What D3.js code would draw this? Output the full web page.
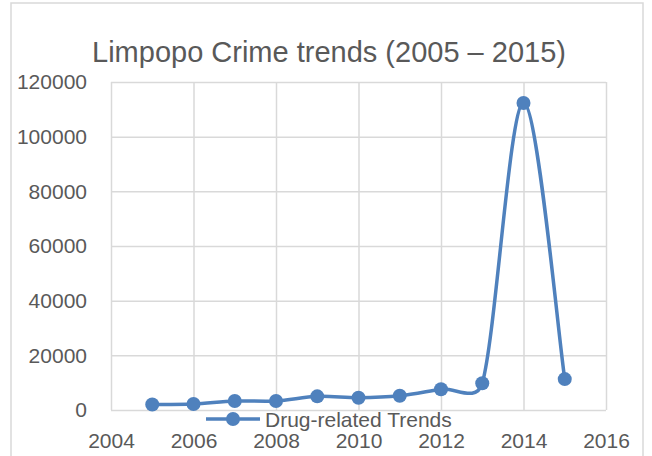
<!DOCTYPE html>
<html>
<head>
<meta charset="utf-8">
<script src="https://cdn.jsdelivr.net/npm/d3@7"></script>
<style>
  body { margin: 0; background: #fff; }
  svg text { font-family: "Liberation Sans", Arial, sans-serif; fill: #595959; }
</style>
</head>
<body>
<svg id="chart" width="652" height="456"></svg>
<script>
// data
var years = [2005, 2006, 2007, 2008, 2009, 2010, 2011, 2012, 2013, 2014, 2015];
var drugTrends = [2000, 2200, 3300, 3300, 5000, 4500, 5200, 7600, 9800, 112300, 11300];
var xTicks = [2004, 2006, 2008, 2010, 2012, 2014, 2016];
var yTicks = [0, 20000, 40000, 60000, 80000, 100000, 120000];
var seriesName = "Drug-related Trends";
var title = "Limpopo Crime trends (2005 \u2013 2015)";

var svg = d3.select("#chart");
var blue = "#4f81bd";
var grid = "#d9d9d9";

// chart frame (runs off the bottom of the crop)
svg.append("rect")
    .attr("x", 11).attr("y", 3)
    .attr("width", 632).attr("height", 480)
    .attr("fill", "#fff")
    .attr("stroke", grid)
    .attr("stroke-width", 1.5);

var x = d3.scaleLinear().domain([2004, 2016]).range([111, 606]);
var y = d3.scaleLinear().domain([0, 120000]).range([410, 82]);

// gridlines
svg.append("g")
    .attr("transform", "translate(0,410)")
    .call(d3.axisBottom(x).tickValues(xTicks).tickSize(-(410 - 82)).tickFormat(""))
    .call(g => g.select(".domain").remove())
    .selectAll("line").attr("stroke", grid).attr("stroke-width", 1.5);

svg.append("g")
    .attr("transform", "translate(111,0)")
    .call(d3.axisLeft(y).tickValues(yTicks).tickSize(-(606 - 111)).tickFormat(""))
    .call(g => g.select(".domain").remove())
    .selectAll("line").attr("stroke", grid).attr("stroke-width", 1.5);

// axis labels
var yAxis = svg.append("g")
    .attr("transform", "translate(111,0)")
    .call(d3.axisLeft(y).tickValues(yTicks).tickSize(0).tickPadding(24).tickFormat(d3.format("d")));
yAxis.select(".domain").remove();
yAxis.selectAll("text").attr("font-size", 21).style("font-family", null);

var xAxis = svg.append("g")
    .attr("transform", "translate(0,410)")
    .call(d3.axisBottom(x).tickValues(xTicks).tickSize(0).tickPadding(23).tickFormat(d3.format("d")));
xAxis.select(".domain").remove();
xAxis.selectAll("text").attr("font-size", 21).style("font-family", null);

// title
svg.append("text")
    .attr("x", 329).attr("y", 62)
    .attr("text-anchor", "middle")
    .attr("font-size", 29)
    .text(title);

// smoothed line, Excel style bezier
var pts = years.map((yr, i) => [x(yr), y(drugTrends[i])]);
function tangent(p0, p1, p2, segLen) {
    var dx = (p2[0] - p0[0]) / 6, dy = (p2[1] - p0[1]) / 6;
    var len = Math.hypot(dx, dy), cap = segLen * 0.5;
    if (len > cap) { dx *= cap / len; dy *= cap / len; }
    return [dx, dy];
}
var path = d3.path();
path.moveTo(pts[0][0], pts[0][1]);
var n = pts.length;
for (var i = 0; i < n - 1; i++) {
    var p0 = pts[Math.max(i - 1, 0)], p1 = pts[i], p2 = pts[i + 1], p3 = pts[Math.min(i + 2, n - 1)];
    var seg = Math.hypot(p2[0] - p1[0], p2[1] - p1[1]);
    var t1 = tangent(p0, p1, p2, seg), t2 = tangent(p1, p2, p3, seg);
    path.bezierCurveTo(p1[0] + t1[0], p1[1] + t1[1], p2[0] - t2[0], p2[1] - t2[1], p2[0], p2[1]);
}
svg.append("path")
    .attr("d", path.toString())
    .attr("fill", "none")
    .attr("stroke", blue)
    .attr("stroke-width", 3.5)
    .attr("stroke-linecap", "round");

svg.selectAll(".dot")
    .data(drugTrends)
    .enter().append("circle")
    .attr("class", "dot")
    .attr("cx", (d, i) => x(years[i]))
    .attr("cy", d => y(d))
    .attr("r", 7)
    .attr("fill", blue);

// legend
var legend = svg.append("g").attr("transform", "translate(206,419)");
legend.append("line")
    .attr("x1", 0).attr("x2", 54)
    .attr("stroke", blue).attr("stroke-width", 3.5);
legend.append("circle").attr("cx", 27).attr("r", 7).attr("fill", blue);
legend.append("text")
    .attr("x", 59).attr("y", 8)
    .attr("font-size", 21)
    .text(seriesName);
</script>
</body>
</html>
